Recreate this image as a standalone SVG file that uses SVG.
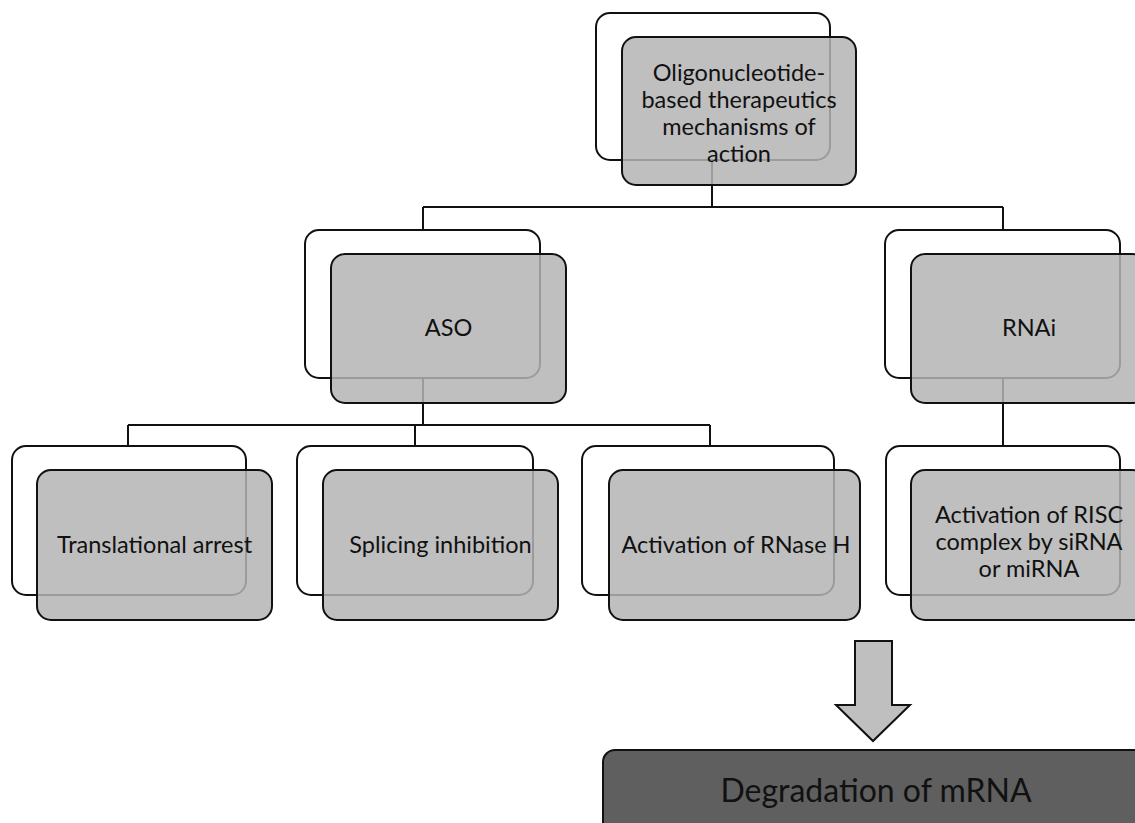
<svg xmlns="http://www.w3.org/2000/svg" width="1135" height="823" viewBox="0 0 1135 823">
<style>
.back{fill:#ffffff;stroke:#111;stroke-width:2}
.front{fill:#b4b4b4;fill-opacity:0.85;stroke:#111;stroke-width:2}
.lbl{font-family:Lato,"Open Sans",sans-serif;font-size:23.5px;fill:#111;text-anchor:middle}
.conn{fill:none;stroke:#111;stroke-width:2}
</style>
<rect width="1135" height="823" fill="#ffffff"/>
<g id="connectors">
<path class="conn" d="M712,160 V207 M423,207 H1003 M423,207 V230 M1003,207 V230"/>
<path class="conn" d="M423,378 V425 M128,425 H710 M128,425 V446 M415,425 V446 M710,425 V446"/>
<path class="conn" d="M1003,378 V446"/>
</g>
<g id="root">
<rect class="back" x="596" y="13" width="234" height="147" rx="14"/>
<rect class="front" x="622" y="37" width="234" height="148" rx="14"/>
<text class="lbl"><tspan x="739" y="81">Oligonucleotide-</tspan><tspan x="739" y="108">based therapeutics</tspan><tspan x="739" y="135">mechanisms of</tspan><tspan x="739" y="162">action</tspan></text>
</g>
<g id="aso">
<rect class="back" x="305" y="230" width="235" height="148" rx="14"/>
<rect class="front" x="331" y="254" width="235" height="149" rx="14"/>
<text class="lbl" x="448.5" y="336">ASO</text>
</g>
<g id="rnai">
<rect class="back" x="885" y="230" width="235" height="148" rx="14"/>
<rect class="front" x="911" y="254" width="235" height="149" rx="14"/>
<text class="lbl" x="1029" y="336">RNAi</text>
</g>
<g id="translational">
<rect class="back" x="12" y="446" width="234" height="149" rx="14"/>
<rect class="front" x="37" y="470" width="235" height="150" rx="14"/>
<text class="lbl" x="154.5" y="553">Translational arrest</text>
</g>
<g id="splicing">
<rect class="back" x="297" y="446" width="236" height="149" rx="14"/>
<rect class="front" x="323" y="470" width="235" height="150" rx="14"/>
<text class="lbl" x="440.5" y="553">Splicing inhibition</text>
</g>
<g id="rnaseh">
<rect class="back" x="582" y="446" width="252" height="149" rx="14"/>
<rect class="front" x="609" y="470" width="251" height="150" rx="14"/>
<text class="lbl" x="736" y="553">Activation of RNase H</text>
</g>
<g id="risc">
<rect class="back" x="886" y="446" width="234" height="149" rx="14"/>
<rect class="front" x="911" y="470" width="235" height="150" rx="14"/>
<text class="lbl"><tspan x="1029" y="523">Activation of RISC</tspan><tspan x="1029" y="550">complex by siRNA</tspan><tspan x="1029" y="577">or miRNA</tspan></text>
</g>
<g id="arrow">
<path d="M855,641 H892 V705 H910 L873,741 L836,705 H855 Z" fill="#bfbfbf" stroke="#111" stroke-width="2" stroke-linejoin="miter"/>
</g>
<g id="degradation">
<rect x="603" y="750" width="560" height="100" rx="12" fill="#5f5f5f" stroke="#111" stroke-width="2"/>
<text x="876" y="802" font-family="Lato,'Open Sans',sans-serif" font-size="32" fill="#111" text-anchor="middle">Degradation of mRNA</text>
</g>
</svg>
